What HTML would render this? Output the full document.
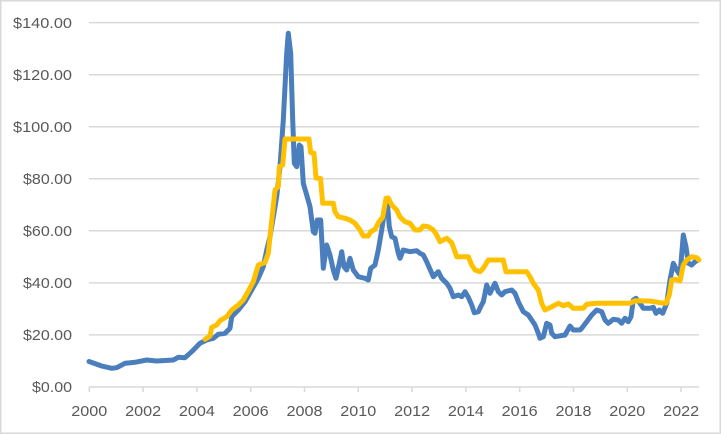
<!DOCTYPE html>
<html>
<head>
<meta charset="utf-8">
<style>
  html, body { margin: 0; padding: 0; background: #ffffff; }
  body { width: 721px; height: 434px; overflow: hidden; }
  svg { display: block; }
  text { font-family: "Liberation Sans", sans-serif; fill: #595959; font-size: 15px; }
</style>
</head>
<body>
<svg width="721" height="434" viewBox="0 0 721 434" xmlns="http://www.w3.org/2000/svg">
  <rect x="0" y="0" width="721" height="434" fill="#ffffff"/>
  <rect x="0.75" y="0.75" width="719.5" height="432.5" fill="none" stroke="#d9d9d9" stroke-width="1.5"/>

  <!-- gridlines -->
  <g stroke="#d9d9d9" stroke-width="1.5">
    <line x1="89" y1="22.6" x2="699" y2="22.6"/>
    <line x1="89" y1="74.7" x2="699" y2="74.7"/>
    <line x1="89" y1="126.7" x2="699" y2="126.7"/>
    <line x1="89" y1="178.8" x2="699" y2="178.8"/>
    <line x1="89" y1="230.8" x2="699" y2="230.8"/>
    <line x1="89" y1="282.9" x2="699" y2="282.9"/>
    <line x1="89" y1="334.9" x2="699" y2="334.9"/>
    <line x1="89" y1="387" x2="699" y2="387"/>
  </g>
  <!-- ticks -->
  <g stroke="#d9d9d9" stroke-width="1.5">
    <line x1="89.3" y1="387" x2="89.3" y2="392"/>
    <line x1="143.1" y1="387" x2="143.1" y2="392"/>
    <line x1="196.9" y1="387" x2="196.9" y2="392"/>
    <line x1="250.7" y1="387" x2="250.7" y2="392"/>
    <line x1="304.5" y1="387" x2="304.5" y2="392"/>
    <line x1="358.3" y1="387" x2="358.3" y2="392"/>
    <line x1="412.1" y1="387" x2="412.1" y2="392"/>
    <line x1="465.9" y1="387" x2="465.9" y2="392"/>
    <line x1="519.7" y1="387" x2="519.7" y2="392"/>
    <line x1="573.5" y1="387" x2="573.5" y2="392"/>
    <line x1="627.3" y1="387" x2="627.3" y2="392"/>
    <line x1="681.1" y1="387" x2="681.1" y2="392"/>
  </g>

  <!-- y labels -->
  <g text-anchor="end">
    <text x="72" y="28" textLength="59" lengthAdjust="spacingAndGlyphs">$140.00</text>
    <text x="72" y="80" textLength="59" lengthAdjust="spacingAndGlyphs">$120.00</text>
    <text x="72" y="132" textLength="59" lengthAdjust="spacingAndGlyphs">$100.00</text>
    <text x="72" y="184" textLength="49" lengthAdjust="spacingAndGlyphs">$80.00</text>
    <text x="72" y="236" textLength="49" lengthAdjust="spacingAndGlyphs">$60.00</text>
    <text x="72" y="288" textLength="49" lengthAdjust="spacingAndGlyphs">$40.00</text>
    <text x="72" y="340" textLength="49" lengthAdjust="spacingAndGlyphs">$20.00</text>
    <text x="72" y="392" textLength="40" lengthAdjust="spacingAndGlyphs">$0.00</text>
  </g>

  <!-- x labels -->
  <g text-anchor="middle">
    <text x="89.3" y="416" textLength="36" lengthAdjust="spacingAndGlyphs">2000</text>
    <text x="143.1" y="416" textLength="36" lengthAdjust="spacingAndGlyphs">2002</text>
    <text x="196.9" y="416" textLength="36" lengthAdjust="spacingAndGlyphs">2004</text>
    <text x="250.7" y="416" textLength="36" lengthAdjust="spacingAndGlyphs">2006</text>
    <text x="304.5" y="416" textLength="36" lengthAdjust="spacingAndGlyphs">2008</text>
    <text x="358.3" y="416" textLength="36" lengthAdjust="spacingAndGlyphs">2010</text>
    <text x="412.1" y="416" textLength="36" lengthAdjust="spacingAndGlyphs">2012</text>
    <text x="465.9" y="416" textLength="36" lengthAdjust="spacingAndGlyphs">2014</text>
    <text x="519.7" y="416" textLength="36" lengthAdjust="spacingAndGlyphs">2016</text>
    <text x="573.5" y="416" textLength="36" lengthAdjust="spacingAndGlyphs">2018</text>
    <text x="627.3" y="416" textLength="36" lengthAdjust="spacingAndGlyphs">2020</text>
    <text x="681.1" y="416" textLength="36" lengthAdjust="spacingAndGlyphs">2022</text>
  </g>

  <!-- blue series -->
  <polyline fill="none" stroke="#4a7ebd" stroke-width="5" stroke-linejoin="round" stroke-linecap="round"
    points="89,361.5 101.7,366 111.7,368.3 116.7,367.7 125,363.3 135,362.3 146.7,360 156.7,361 173.3,360 178.3,357.3 185,357.7 191.7,351.7 200,343.3 206.7,340 213.3,338.3 218.3,334.3 225,333.3 230,328.3 231.7,316.7 238.3,310 245,301.7 251.7,290 258.3,278.3 263.3,266.7 266.7,250 270,236.7 276.7,196.7 280,166.7 283.3,120 286.7,53.3 288.3,33.3 290.7,53.3 292.7,120 294.3,163.3 296.7,166.7 299.3,145 301,146.7 303.3,183.3 306.7,195 310,206.7 313.3,231.7 315,233.3 317.3,220 320.7,220 323.3,268.3 326.7,245 330,255 333.3,270 336,278.3 339.3,263.3 341.7,251.7 344,266.7 346.7,270 350,258.3 353.3,270 358.3,276.7 365,278.3 368.3,280 370.7,268.3 375,265 378.3,250 381.7,230 385,208.3 387.3,201.7 389.3,226.7 391.7,236.7 395,238.3 398.3,253.3 400,258.3 403.3,250 410,251.7 416.7,250.7 420,253.3 423.3,255 426.7,261.7 430,269.3 433.3,276.7 438.3,271.7 441.7,278.3 446.7,283.3 450,288.3 453.3,296.7 458.3,295 461.7,296.7 465,291.7 468.3,297.3 471.7,305 474.3,312.7 478.3,311.7 481,306 483.3,301.7 486.7,285 490,293.3 495,283.3 498.3,291.7 501.7,295 505,291.7 511.7,290 515,293.3 518.3,301.7 523.3,311.7 528.3,315 531.7,320 535,325 538.3,333.3 540,338.3 543.3,336.7 546.7,323.3 550,325 551.7,333.3 555,336.7 565,335 570,326 573.3,330 580,330 581.7,328.3 586.7,321.7 591.7,315 596.7,310 601.7,311.7 605,320 608.3,323.3 613.3,319.3 618.3,320 621.7,323.3 625,318.3 628.3,321.7 631,316.7 633.3,300 636,298.3 640,303.3 643.3,308.3 650,308.3 653.3,307.3 656,313.3 659.3,310 662.7,313.3 666.7,303.3 670,280 673.3,263.3 676.7,270 680,275 683.3,235 686,246.7 688.3,263.3 691.7,265 695,261.7 698.3,260"/>

  <!-- gold series -->
  <polyline fill="none" stroke="#ffc000" stroke-width="5" stroke-linejoin="round" stroke-linecap="round"
    points="205,339.3 210,336 211.7,327.3 216.7,325 220,320.7 226.7,316.7 231.7,310 238.3,305 243.3,300 250,288 253.3,281.7 258.3,265 265,262.5 268.3,253.3 270,236.7 275,190 278.3,186.7 279.3,166.7 282.7,165 285,139 309,139 310.7,152.5 314,153.3 316,178 320.5,178.5 322.7,203.3 333.3,203.3 335,211.7 338.3,216.7 345,218.3 350,220 355,223.3 360,230 363.3,236 368.3,236 370.7,231.7 375,229.3 379,221.7 382.7,217.3 386,198.3 388.3,198 391.7,205 396.7,210 400,217 405,221.7 410,223.3 415,230 420,230 423.3,226 428.3,226.7 433.3,230 436.7,235 440,241.7 446.7,238.3 451.7,242.7 455,251.7 456.7,256.7 468.3,256.7 471.7,265 475,270 480,271.7 483.3,268.3 488.3,260 503.3,260 506,271.7 526.7,271.7 530,276.7 533.3,283.3 538.3,290 541.7,303.3 545,310 551.7,306.7 558.3,303.3 563.3,305.7 568.3,304 573.3,308.3 583.3,308.3 586.7,304.3 596.7,303.3 630,303.3 635,300.7 650,301 660,302.7 666,303.3 669.3,295 671.7,280 675,279.3 680,281 683.3,265 686.7,260 691.7,256.7 696.7,257.7 699,260"/>
</svg>
</body>
</html>
